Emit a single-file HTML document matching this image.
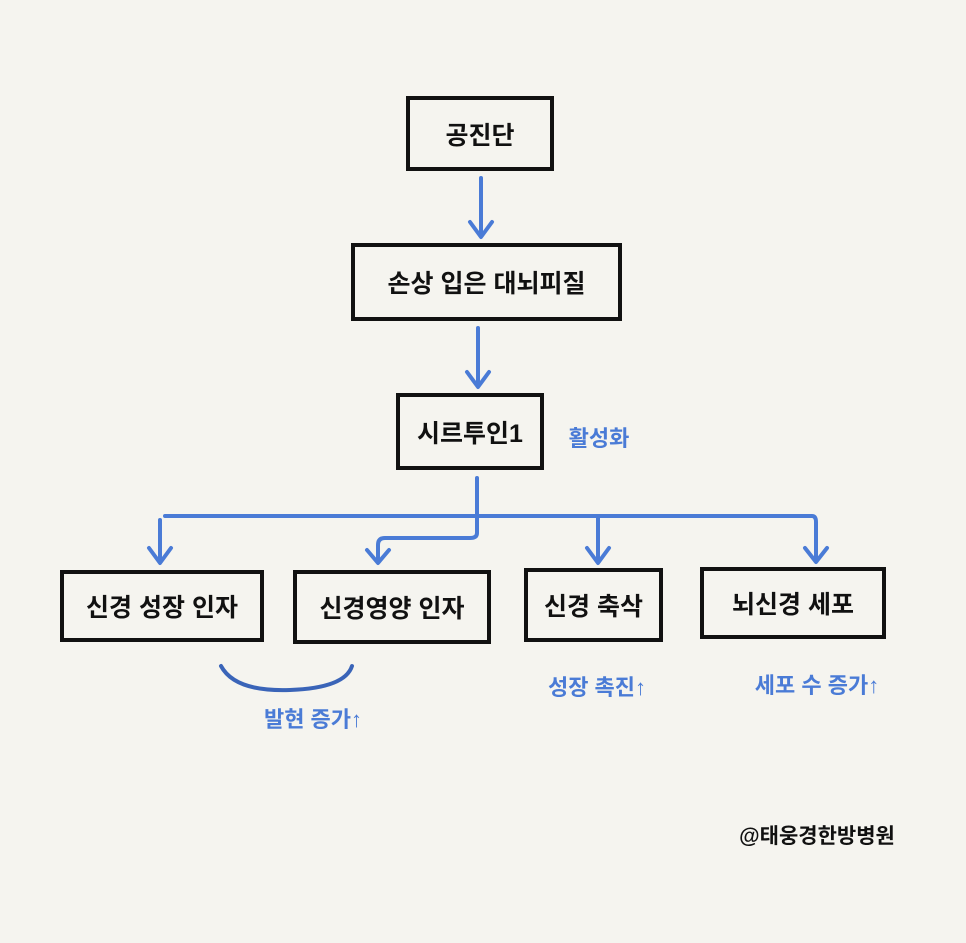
<!DOCTYPE html>
<html><head><meta charset="utf-8"><style>
body{margin:0;background:#f5f4ef;}
.c{position:relative;width:966px;height:943px;overflow:hidden;background:#f5f4ef;font-family:"Liberation Sans","Noto Sans CJK KR",sans-serif;}
.b{position:absolute;box-sizing:border-box;border:4px solid #111;display:flex;align-items:center;justify-content:center;font-weight:bold;font-size:25px;color:#111;}
.t{position:absolute;color:#4a7bd6;font-weight:bold;font-size:22px;white-space:nowrap;transform:translate(-50%,-50%);}
</style></head><body><div class="c">
<svg width="966" height="943" style="position:absolute;left:0;top:0" fill="none" stroke="#4a7bd6" stroke-width="4" stroke-linecap="round" stroke-linejoin="round">
<path d="M481 178V236M470 222L481 237L492 222"/>
<path d="M478 328V386M467 372L478 387L489 372"/>
<path d="M477 478V510M165 516H812Q816 516 816 522V560M160 520V562M149 548L160 563L171 548"/>
<path d="M477 505V533Q477 538 470 538H385Q378 538 378 545V562M367 550L378 563L389 550"/>
<path d="M598 516V562M587 548L598 563L609 548"/>
<path d="M805 548L816 562L827 548"/>
<path d="M221 666Q235 692 290 690Q345 688 352 666" stroke="#3a64b8"/>
</svg>
<div class="b" style="left:406px;top:96px;width:148px;height:75px">공진단</div>
<div class="b" style="left:351px;top:243px;width:271px;height:78px">손상 입은 대뇌피질</div>
<div class="b" style="left:396px;top:393px;width:148px;height:77px">시르투인1</div>
<div class="b" style="left:60px;top:570px;width:204px;height:72px">신경 성장 인자</div>
<div class="b" style="left:293px;top:570px;width:198px;height:74px">신경영양 인자</div>
<div class="b" style="left:524px;top:568px;width:139px;height:74px">신경 축삭</div>
<div class="b" style="left:700px;top:567px;width:186px;height:72px">뇌신경 세포</div>
<div class="t" style="left:599px;top:437px">활성화</div>
<div class="t" style="left:313px;top:718px">발현 증가↑</div>
<div class="t" style="left:597px;top:686px">성장 촉진↑</div>
<div class="t" style="left:817px;top:684px">세포 수 증가↑</div>
<div class="t" style="left:817px;top:835px;color:#111;font-size:21px">@태웅경한방병원</div>
</div></body></html>
